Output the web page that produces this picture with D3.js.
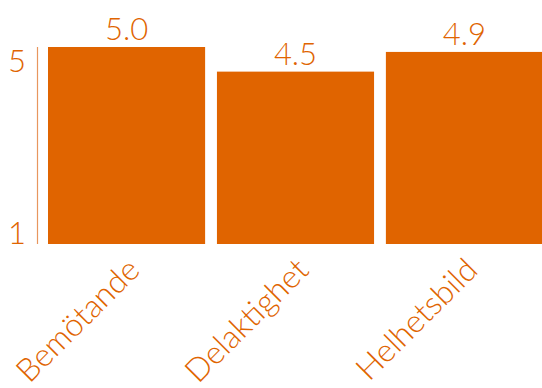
<!DOCTYPE html>
<html>

<head>
  <meta charset='utf-8'>
  <script type="text/javascript" src="https://cdn.jsdelivr.net/npm/d3@7"></script>
  <style type="text/css">
    body {
      margin: 0;
      background: #fff;
    }

    text {
      font-family: Lato, "Open Sans", sans-serif;
      font-weight: 300;
      fill: #e06400;
    }
  </style>
</head>

<body>
</body>

<script type="text/javascript">
  let w = 542;
  let h = 388;

  let categories = ["Bemötande", "Delaktighet", "Helhetsbild"];
  let values = [5.0, 4.5, 4.9];
  let yTicks = [1, 5];

  let barColor = "#e06400";

  // scales
  let x = d3.scaleBand()
    .domain(categories)
    .range([48, 543])
    .paddingInner(0.07)
    .paddingOuter(0);

  let y = d3.scaleLinear()
    .domain([1, 5])
    .range([244, 47]);

  let svg = d3.select("body")
    .append("svg")
    .attr("width", w)
    .attr("height", h);

  // axis line
  svg.append("line")
    .attr("x1", 37.5)
    .attr("x2", 37.5)
    .attr("y1", y(5))
    .attr("y2", y(1))
    .attr("stroke", "#e8965e")
    .attr("stroke-width", 1.2);

  // tick labels, pulled inside the range
  svg.selectAll(".tick")
    .data(yTicks)
    .enter()
    .append("text")
    .attr("class", "tick")
    .attr("x", 26)
    .attr("y", d => d == 5 ? y(d) + 25 : y(d))
    .attr("text-anchor", "end")
    .attr("font-size", 31)
    .text(d => d);

  // bars
  svg.selectAll(".bar")
    .data(values)
    .enter()
    .append("rect")
    .attr("class", "bar")
    .attr("x", (d, i) => x(categories[i]))
    .attr("y", d => y(d))
    .attr("width", x.bandwidth())
    .attr("height", d => y(1) - y(d))
    .attr("fill", barColor);

  // value labels
  svg.selectAll(".val")
    .data(values)
    .enter()
    .append("text")
    .attr("class", "val")
    .attr("x", (d, i) => x(categories[i]) + x.bandwidth() / 2)
    .attr("y", d => y(d) - 7)
    .attr("text-anchor", "middle")
    .attr("font-size", 31)
    .text(d => d.toFixed(1));

  // category labels
  svg.selectAll(".cat")
    .data(categories)
    .enter()
    .append("text")
    .attr("class", "cat")
    .attr("text-anchor", "end")
    .attr("font-size", 32)
    .attr("transform", d => {
      let cx = x(d) + x.bandwidth() / 2 + 15;
      return "translate(" + cx + ",272) rotate(-45)";
    })
    .text(d => d);
</script>

</html>
